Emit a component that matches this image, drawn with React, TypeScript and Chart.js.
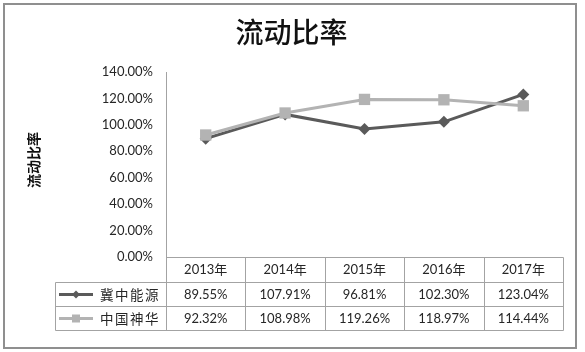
import React, { useEffect, useRef } from 'react';
import { Chart, registerables } from 'chart.js';

Chart.register(...registerables);

const categories = ['2013年', '2014年', '2015年', '2016年', '2017年'];
const seriesNames = ['冀中能源', '中国神华'];
const jizhongValues = [89.55, 107.91, 96.81, 102.3, 123.04];
const shenhuaValues = [92.32, 108.98, 119.26, 118.97, 114.44];
const yMin = 0;
const yMax = 140;
const yStep = 20;
const chartTitle = '流动比率';
const yAxisTitle = '流动比率';

const DARK = '#5a5a5a';
const LIGHT = '#b3b3b3';
const GRID = '#a3a3a3';
const TEXT = '#262626';
const LATIN = 'Lato, "Noto Sans CJK SC", sans-serif';
const CJK = '"Noto Sans CJK SC", sans-serif';

const fmt = (v: number) => v.toFixed(2) + '%';

const decorPlugin = {
  id: 'decor',
  beforeDraw(chart: any) {
    const ctx = chart.ctx as CanvasRenderingContext2D;
    ctx.save();
    ctx.fillStyle = '#ffffff';
    ctx.fillRect(0, 0, chart.width, chart.height);
    ctx.strokeStyle = '#8f8f8f';
    ctx.lineWidth = 2;
    ctx.strokeRect(4, 4, 572, 344);
    // title
    ctx.fillStyle = '#111';
    ctx.font = '500 28px ' + CJK;
    ctx.textAlign = 'center';
    ctx.textBaseline = 'middle';
    ctx.fillText(chartTitle, 291.5, 32);
    // y axis title
    ctx.save();
    ctx.translate(34, 160);
    ctx.rotate(-Math.PI / 2);
    ctx.font = 'bold 14px ' + CJK;
    ctx.fillText(yAxisTitle, 0, 0);
    ctx.restore();
    ctx.restore();
  },
  afterDraw(chart: any) {
    const ctx = chart.ctx as CanvasRenderingContext2D;
    const area = chart.chartArea;
    const xs = chart.scales.x;
    const n = categories.length;
    const half = (area.right - area.left) / n / 2;
    const top = Math.round(area.bottom) + 0.5;
    const r1 = 282.5;
    const r2 = 306.5;
    const r3 = 330.5;
    const legendLeft = 55.5;
    const bounds: number[] = [];
    for (let i = 0; i <= n; i++) {
      const px = i < n ? xs.getPixelForValue(i) - half : xs.getPixelForValue(n - 1) + half;
      bounds.push(Math.round(px) + 0.5);
    }
    ctx.save();
    ctx.strokeStyle = GRID;
    ctx.lineWidth = 1;
    ctx.beginPath();
    ctx.moveTo(bounds[0], top);
    ctx.lineTo(bounds[n], top);
    [r1, r2, r3].forEach((y) => {
      ctx.moveTo(legendLeft, y);
      ctx.lineTo(bounds[n], y);
    });
    ctx.moveTo(legendLeft, r1);
    ctx.lineTo(legendLeft, r3);
    bounds.forEach((bx) => {
      ctx.moveTo(bx, top);
      ctx.lineTo(bx, r3);
    });
    ctx.stroke();

    // texts
    ctx.fillStyle = TEXT;
    ctx.textAlign = 'center';
    ctx.textBaseline = 'middle';
    ctx.font = '13px ' + LATIN;
    const rows = [jizhongValues, shenhuaValues];
    const centers = [(top + r1) / 2, (r1 + r2) / 2, (r2 + r3) / 2];
    categories.forEach((c, i) => {
      const cx = xs.getPixelForValue(i);
      ctx.fillText(c, cx, centers[0]);
      rows.forEach((vals, k) => {
        ctx.fillText(fmt(vals[i]), cx, centers[k + 1]);
      });
    });

    // legend keys
    const colors = [DARK, LIGHT];
    seriesNames.forEach((name, k) => {
      const cy = centers[k + 1];
      ctx.strokeStyle = colors[k];
      ctx.lineWidth = 3;
      ctx.beginPath();
      ctx.moveTo(59, cy);
      ctx.lineTo(93, cy);
      ctx.stroke();
      ctx.fillStyle = colors[k];
      ctx.beginPath();
      if (k === 0) {
        ctx.moveTo(76, cy - 4);
        ctx.lineTo(80, cy);
        ctx.lineTo(76, cy + 4);
        ctx.lineTo(72, cy);
        ctx.closePath();
      } else {
        ctx.rect(72, cy - 4, 8, 8);
      }
      ctx.fill();
      ctx.fillStyle = TEXT;
      ctx.font = '13.5px ' + CJK;
      ctx.textAlign = 'left';
      Array.from(name).forEach((ch, j) => {
        ctx.fillText(ch, 100 + j * 15, cy);
      });
      ctx.textAlign = 'center';
    });
    ctx.restore();
  },
};

export default function App() {
  const ref = useRef<HTMLCanvasElement | null>(null);
  useEffect(() => {
    document.body.style.margin = '0';
    const canvas = ref.current;
    if (!canvas) return;
    const chart = new Chart(canvas, {
      type: 'line',
      data: {
        labels: categories,
        datasets: [
          {
            label: seriesNames[0],
            data: jizhongValues,
            borderColor: DARK,
            backgroundColor: DARK,
            borderWidth: 3,
            pointStyle: 'rectRot',
            pointRadius: 6,
            pointBorderWidth: 0,
            pointBackgroundColor: DARK,
            tension: 0,
            order: 2,
          },
          {
            label: seriesNames[1],
            data: shenhuaValues,
            borderColor: LIGHT,
            backgroundColor: LIGHT,
            borderWidth: 3,
            pointStyle: 'rect',
            pointRadius: 8,
            pointBorderWidth: 0,
            pointBackgroundColor: LIGHT,
            tension: 0,
            order: 1,
          },
        ],
      },
      options: {
        animation: false,
        responsive: false,
        layout: { padding: { top: 72, right: 22, bottom: 95, left: 0 } },
        plugins: {
          legend: { display: false },
          tooltip: { enabled: false },
          title: { display: false },
        },
        scales: {
          x: { display: false, offset: true },
          y: {
            min: yMin,
            max: yMax,
            ticks: {
              stepSize: yStep,
              padding: 13,
              color: TEXT,
              font: { family: LATIN, size: 13 },
              callback: (v: any) => fmt(Number(v)),
            },
            grid: { display: false, drawTicks: false },
            border: { display: true, color: GRID, width: 1 },
            afterFit: (s: any) => {
              s.width = 166;
            },
          },
        },
      },
      plugins: [decorPlugin],
    });
    return () => chart.destroy();
  }, []);
  return <canvas ref={ref} width={585} height={352} style={{ display: 'block' }} />;
}
